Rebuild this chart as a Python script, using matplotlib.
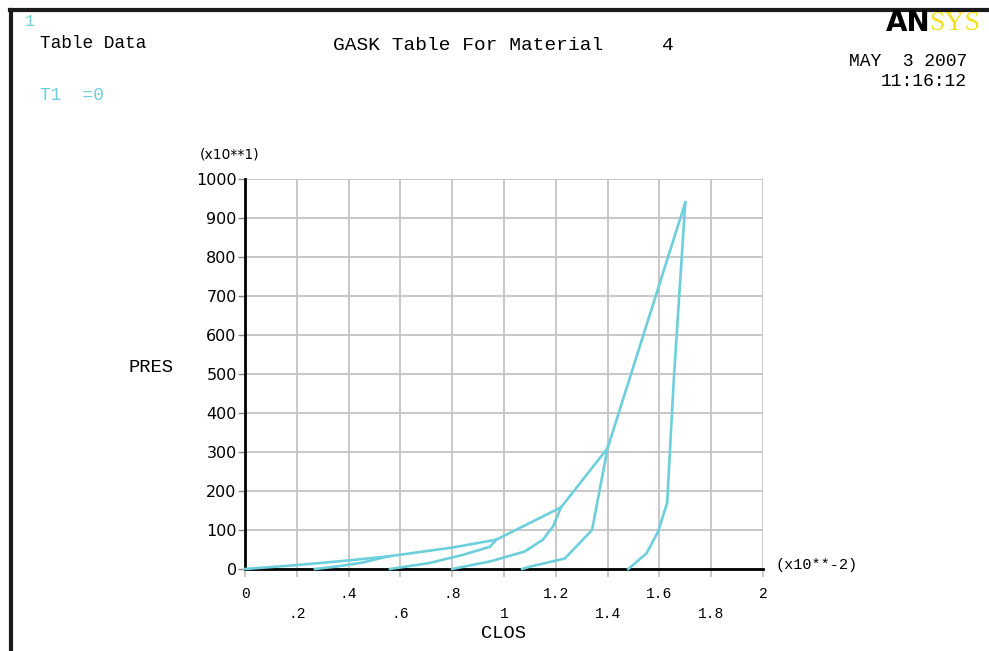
import matplotlib
matplotlib.use("Agg")
import matplotlib.pyplot as plt
from matplotlib.lines import Line2D

# gasket table data (CLOS in x10**-2, PRES in x10**1)
load_clos = [0.0, 0.2, 0.4, 0.55, 0.8, 0.97, 1.22, 1.40, 1.70]
load_pres = [0, 10, 22, 32, 55, 75, 158, 310, 940]

unload1_clos = [0.27, 0.35, 0.45, 0.55]
unload1_pres = [0, 6, 16, 32]

unload2_clos = [0.56, 0.71, 0.84, 0.946, 0.97]
unload2_pres = [0, 15, 36, 57, 75]

unload3_clos = [0.80, 0.95, 1.08, 1.15, 1.19, 1.22]
unload3_pres = [0, 20, 45, 75, 110, 158]

unload4_clos = [1.07, 1.10, 1.235, 1.34, 1.40]
unload4_pres = [0, 6, 27, 100, 310]

unload5_clos = [1.48, 1.55, 1.595, 1.63, 1.655, 1.70]
unload5_pres = [0, 40, 96, 170, 480, 940]

x_major = [0, 0.4, 0.8, 1.2, 1.6, 2.0]
x_major_labels = ["0", ".4", ".8", "1.2", "1.6", "2"]
x_minor = [0.2, 0.6, 1.0, 1.4, 1.8]
x_minor_labels = [".2", ".6", "1", "1.4", "1.8"]
y_ticks = list(range(0, 1001, 100))

CYAN = "#6dcfdc"
MONO = "Liberation Mono"

W, H = 989, 651
fig = plt.figure(figsize=(W / 100, H / 100), dpi=100)
fig.patch.set_facecolor("white")

ax = fig.add_axes([245 / W, (H - 569) / H, (763 - 245) / W, (569 - 179) / H])

curves = [(load_clos, load_pres), (unload1_clos, unload1_pres),
          (unload2_clos, unload2_pres), (unload3_clos, unload3_pres),
          (unload4_clos, unload4_pres), (unload5_clos, unload5_pres)]
for xs, ys in curves:
    ax.plot(xs, ys, color=CYAN, lw=1.9, zorder=4, clip_on=False)

ax.set_xlim(0, 2)
ax.set_ylim(0, 1000)
ax.set_xticks(x_major, x_major_labels)
ax.set_xticks(x_minor, x_minor_labels, minor=True)
ax.set_yticks(y_ticks, [str(v) for v in y_ticks])
ax.grid(which="both", color="#c4c4c4", lw=1.3, zorder=0)

for s in ["top", "right"]:
    ax.spines[s].set_visible(False)
ax.spines["left"].set_linewidth(2)
ax.spines["bottom"].set_linewidth(2)
ax.spines["left"].set_zorder(3)
ax.spines["bottom"].set_zorder(3)

ax.tick_params(axis="x", which="both", length=6, width=1.3, color="#c4c4c4",
               labelsize=10.5)
ax.tick_params(axis="x", which="major", pad=7)
ax.tick_params(axis="x", which="minor", pad=21.5)
ax.tick_params(axis="y", length=5, width=1, color="#888888", labelsize=11.5, pad=1)
for lab in ax.get_xticklabels(which="both"):
    lab.set_fontfamily(MONO)

# header texts
fig.text(25 / W, 1 - 22 / H, "1", color=CYAN, family=MONO, fontsize=12, va="center")
fig.text(40 / W, 1 - 44 / H, "Table Data", family=MONO, fontsize=12.8, va="center")
fig.text(40 / W, 1 - 95 / H, "T1  =0", color=CYAN, family=MONO, fontsize=12.8,
         va="center")
fig.text(503 / W, 1 - 46 / H, "GASK Table For Material     4", family=MONO,
         fontsize=14, ha="center", va="center")
fig.text(967 / W, 1 - 62 / H, "MAY  3 2007", family=MONO, fontsize=13,
         ha="right", va="center")
fig.text(967 / W, 1 - 82 / H, "11:16:12", family=MONO, fontsize=13,
         ha="right", va="center")
fig.text(930 / W, 1 - 23 / H, "AN", family="DejaVu Sans", weight="heavy",
         fontsize=20, ha="right", va="center", color="black")
fig.text(929 / W, 1 - 23 / H, "SYS", family="Liberation Serif", fontsize=20,
         ha="left", va="center", color="#f2e21c")

fig.text(200 / W, 1 - 155 / H, "(x10**1)", family="DejaVu Sans", fontsize=10,
         va="center")
fig.text(128 / W, 1 - 368 / H, "PRES", family=MONO, fontsize=13.5, va="center")
fig.text(503 / W, 1 - 634 / H, "CLOS", family=MONO, fontsize=13.5, ha="center",
         va="center")
fig.text(776 / W, 1 - 565 / H, "(x10**-2)", family=MONO, fontsize=11, va="center")

# frame lines at top and left
fig.add_artist(Line2D([10 / W, 1], [1 - 10 / H, 1 - 10 / H], color="#1a1a1a", lw=3))
fig.add_artist(Line2D([11 / W, 11 / W], [0, 1 - 10 / H], color="#1a1a1a", lw=3))

fig.savefig("out.png", dpi=100)
